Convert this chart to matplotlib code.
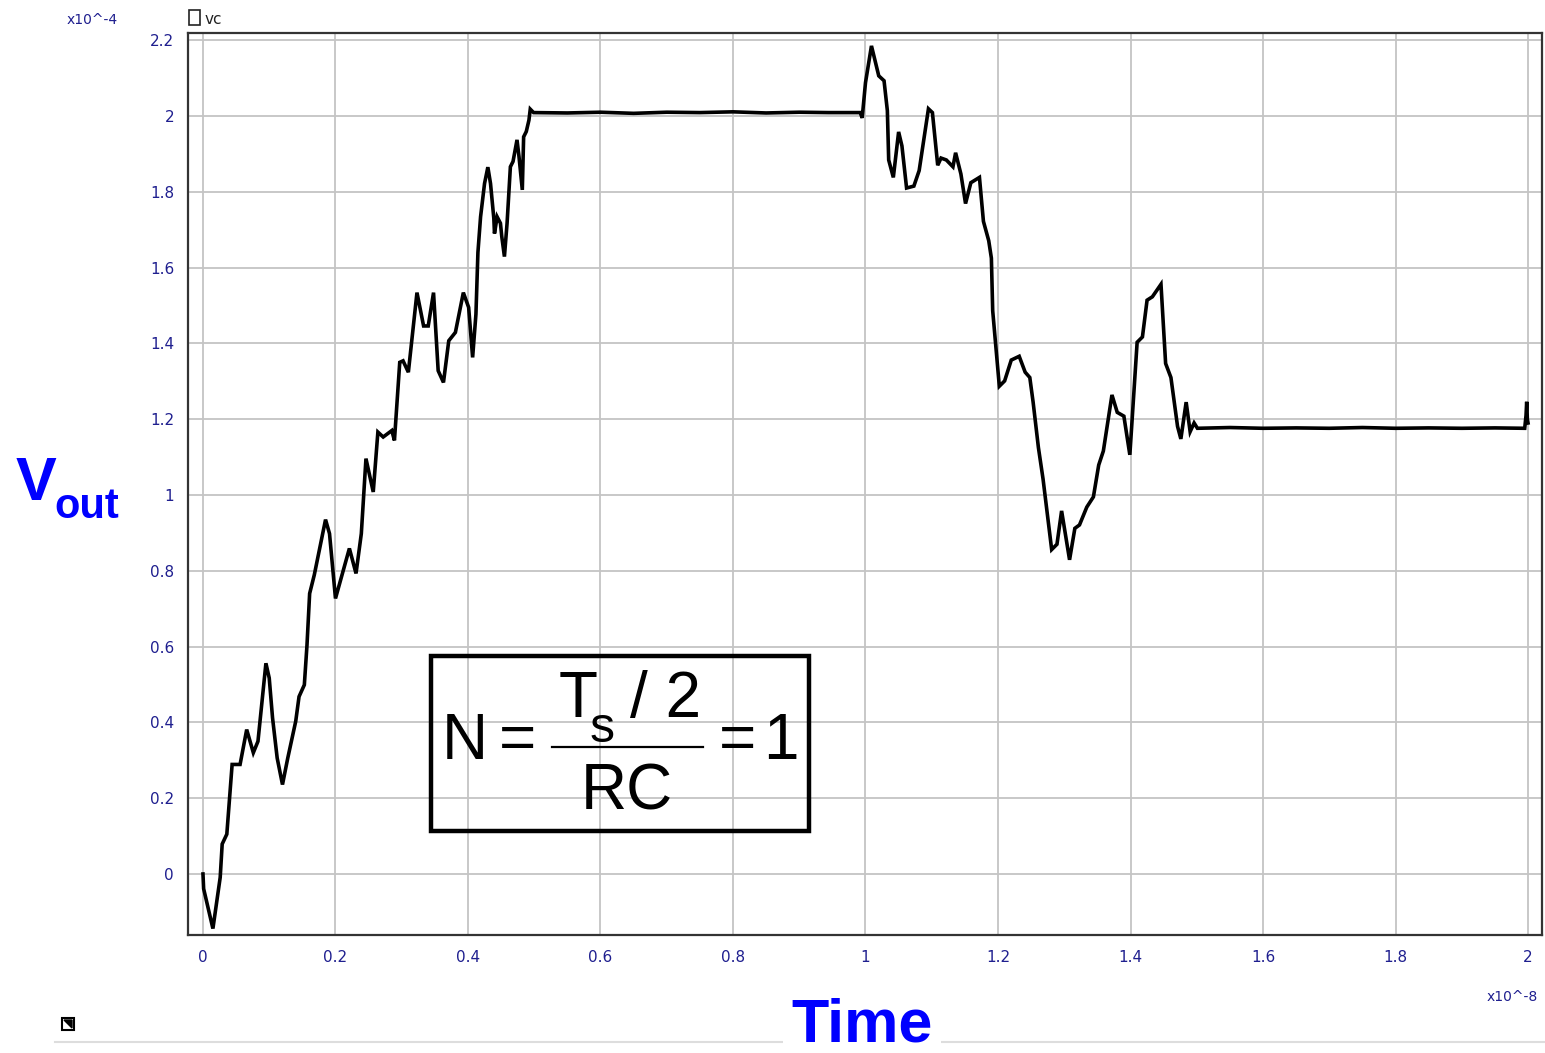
import matplotlib.pyplot as plt
from matplotlib.patches import Rectangle, Polygon
from matplotlib.lines import Line2D

# time in units of 1e-8 s, vc in units of 1e-4 V
t = [0.000, 0.001, 0.015, 0.026, 0.029, 0.036, 0.044, 0.056, 0.066, 0.076,
     0.083, 0.095, 0.100, 0.105, 0.112, 0.120, 0.128, 0.140, 0.145, 0.153,
     0.157, 0.161, 0.168, 0.185, 0.191, 0.200, 0.221, 0.231, 0.239, 0.246,
     0.257, 0.264, 0.272, 0.285, 0.289, 0.297, 0.302, 0.310, 0.323, 0.333,
     0.340, 0.348, 0.355, 0.363, 0.371, 0.381, 0.393, 0.401, 0.407, 0.412,
     0.415, 0.419, 0.425, 0.430, 0.434, 0.439, 0.440, 0.444, 0.449, 0.451,
     0.455, 0.459, 0.464, 0.468, 0.474, 0.477, 0.482, 0.484, 0.488, 0.492,
     0.494, 0.499, 0.550, 0.600, 0.650, 0.700, 0.750, 0.800, 0.850, 0.900,
     0.944, 0.992, 0.995, 1.000, 1.009, 1.020, 1.028, 1.033, 1.035, 1.042,
     1.050, 1.055, 1.062, 1.073, 1.081, 1.089, 1.095, 1.101, 1.109, 1.114,
     1.122, 1.132, 1.136, 1.144, 1.151, 1.159, 1.172, 1.178, 1.186, 1.190,
     1.192, 1.202, 1.210, 1.220, 1.232, 1.241, 1.248, 1.253, 1.261, 1.268,
     1.281, 1.289, 1.296, 1.308, 1.316, 1.323, 1.334, 1.344, 1.352, 1.359,
     1.372, 1.380, 1.390, 1.399, 1.410, 1.418, 1.425, 1.433, 1.446, 1.453,
     1.461, 1.471, 1.476, 1.484, 1.490, 1.496, 1.501, 1.550, 1.600, 1.650,
     1.700, 1.750, 1.800, 1.850, 1.900, 1.950, 1.995, 1.997, 1.998, 1.999,
     2.000]
vc = [0.000, -0.039, -0.144, -0.009, 0.079, 0.105, 0.289, 0.289, 0.381, 0.320,
      0.350, 0.556, 0.517, 0.412, 0.306, 0.236, 0.306, 0.403, 0.468, 0.499,
      0.604, 0.740, 0.789, 0.935, 0.898, 0.727, 0.859, 0.793, 0.898, 1.096,
      1.008, 1.166, 1.153, 1.170, 1.144, 1.350, 1.354, 1.324, 1.534, 1.446,
      1.446, 1.534, 1.328, 1.297, 1.407, 1.429, 1.534, 1.495, 1.363, 1.477,
      1.640, 1.734, 1.822, 1.865, 1.822, 1.730, 1.690, 1.734, 1.717, 1.682,
      1.629, 1.717, 1.866, 1.880, 1.937, 1.893, 1.805, 1.945, 1.959, 1.989,
      2.018, 2.009, 2.008, 2.010, 2.007, 2.010, 2.009, 2.011, 2.008, 2.010,
      2.009, 2.009, 1.995, 2.088, 2.185, 2.106, 2.093, 2.014, 1.884, 1.838,
      1.958, 1.921, 1.810, 1.815, 1.856, 1.949, 2.019, 2.009, 1.870, 1.889,
      1.884, 1.866, 1.903, 1.847, 1.769, 1.824, 1.838, 1.722, 1.671, 1.625,
      1.486, 1.287, 1.301, 1.356, 1.366, 1.324, 1.310, 1.245, 1.125, 1.042,
      0.856, 0.870, 0.958, 0.829, 0.912, 0.921, 0.968, 0.995, 1.079, 1.116,
      1.264, 1.218, 1.208, 1.106, 1.403, 1.417, 1.514, 1.523, 1.556, 1.347,
      1.310, 1.181, 1.148, 1.245, 1.167, 1.190, 1.176, 1.178, 1.176, 1.177,
      1.176, 1.178, 1.176, 1.177, 1.176, 1.177, 1.176, 1.210, 1.246, 1.200,
      1.190]

x_ticks = [0, 0.2, 0.4, 0.6, 0.8, 1.0, 1.2, 1.4, 1.6, 1.8, 2.0]
x_labels = ['0', '0.2', '0.4', '0.6', '0.8', '1', '1.2', '1.4', '1.6', '1.8', '2']
y_ticks = [0, 0.2, 0.4, 0.6, 0.8, 1.0, 1.2, 1.4, 1.6, 1.8, 2.0, 2.2]
y_labels = ['0', '0.2', '0.4', '0.6', '0.8', '1', '1.2', '1.4', '1.6', '1.8', '2', '2.2']

W, H = 1545, 1053
navy = '#1f1f8f'
blue = '#0000ff'


def fx(px):
    return px / W


def fy(py):
    return 1 - py / H


fig = plt.figure(figsize=(W / 100, H / 100), dpi=100)
ax = fig.add_axes([fx(188), fy(935), fx(1542) - fx(188), fy(33) - fy(935)])

ax.plot(t, vc, color='black', lw=2.6, solid_joinstyle='miter')

ax.set_xlim(-0.0226, 2.0211)
ax.set_ylim(-0.161, 2.219)
ax.set_xticks(x_ticks)
ax.set_xticklabels(x_labels)
ax.set_yticks(y_ticks)
ax.set_yticklabels(y_labels)
ax.tick_params(length=0, labelsize=11, labelcolor=navy)
ax.tick_params(axis='x', pad=11)
ax.tick_params(axis='y', pad=10)
ax.grid(True, color='#c4c4c4', lw=1.3)
ax.set_axisbelow(True)
for s in ax.spines.values():
    s.set_color('#333333')
    s.set_linewidth(1.6)

# equation box
ax.add_patch(Rectangle((fx(431), fy(831)), fx(809) - fx(431), fy(656) - fy(831),
                       transform=fig.transFigure, fill=False, ec='black', lw=3.2,
                       zorder=5))
eq = dict(transform=fig.transFigure, family='Liberation Sans',
          color='black', va='center', zorder=6)
fig.text(fx(442), fy(742), 'N', ha='left', fontsize=46, **eq)
fig.text(fx(517), fy(742), '=', ha='center', fontsize=46, **eq)
fig.text(fx(578), fy(700), 'T', ha='center', fontsize=46, **eq)
fig.text(fx(602), fy(729), 's', ha='center', fontsize=36, **eq)
fig.text(fx(666), fy(700), '/ 2', ha='center', fontsize=46, **eq)
fig.add_artist(Line2D([fx(552), fx(703)], [fy(747), fy(747)], color='black', lw=1.6,
                      transform=fig.transFigure, zorder=6))
fig.text(fx(627), fy(792), 'RC', ha='center', fontsize=46, **eq)
fig.text(fx(738), fy(742), '=', ha='center', fontsize=46, **eq)
fig.text(fx(781), fy(742), '1', ha='center', fontsize=46, **eq)

# scale factors and legend
fig.text(fx(92), fy(20), 'x10^-4', ha='center', va='center', fontsize=10, color=navy)
fig.text(fx(1512), fy(997), 'x10^-8', ha='center', va='center', fontsize=10, color=navy)
fig.add_artist(Rectangle((fx(189), fy(25)), fx(200) - fx(189), fy(10) - fy(25),
                         transform=fig.transFigure, fill=False, ec='#222222', lw=1.2))
fig.text(fx(205), fy(19), 'vc', ha='left', va='center', fontsize=11, color='#222222')

# axis labels
fig.text(fx(16), fy(485), 'V', ha='left', va='center', family='Liberation Sans',
         fontweight='bold', fontsize=44, color=blue)
fig.text(fx(54), fy(507), 'out', ha='left', va='center', family='Liberation Sans',
         fontweight='bold', fontsize=30, color=blue)

# footer line and icon
fig.add_artist(Line2D([fx(55), fx(1545)], [fy(1042), fy(1042)], color='#dddddd', lw=1.5,
                      transform=fig.transFigure))
fig.add_artist(Rectangle((fx(62), fy(1030)), fx(74) - fx(62), fy(1018) - fy(1030),
                         transform=fig.transFigure, fill=False, ec='black', lw=1.5))
fig.add_artist(Polygon([[fx(64), fy(1020)], [fx(72), fy(1028)], [fx(72), fy(1020)]],
                       transform=fig.transFigure, color='black'))
fig.text(fx(862), fy(1026), 'Time', ha='center', va='center', family='Liberation Sans',
         fontweight='bold', fontsize=44, color=blue,
         bbox=dict(facecolor='white', edgecolor='none', pad=6))

fig.savefig('out.png', dpi=100)
